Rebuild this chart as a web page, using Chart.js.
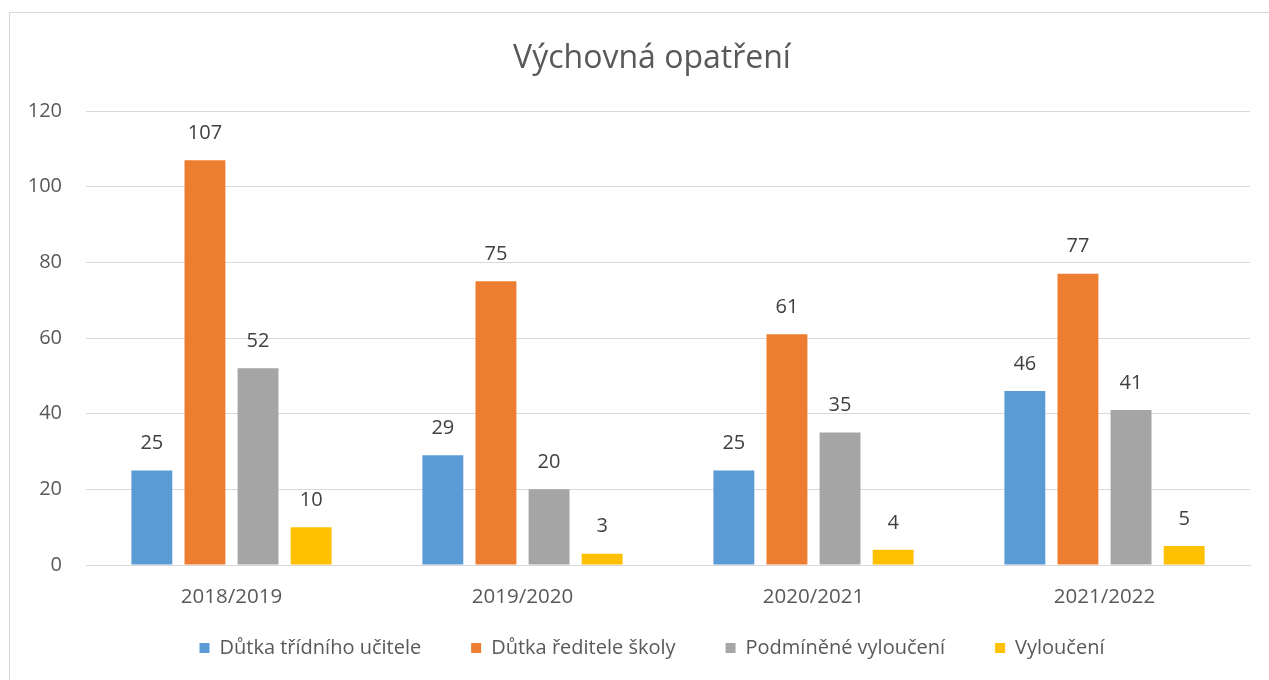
<!DOCTYPE html>
<html>
<head>
<meta charset="utf-8">
<script src="https://cdn.jsdelivr.net/npm/chart.js@4"></script>
<style>
  body { margin: 0; background: #fff; }
  #wrap { width: 1269px; height: 680px; position: relative; }
</style>
</head>
<body>
<div id="wrap"><canvas id="myChart"></canvas></div>
<script>
// Data
const years = ['2018/2019', '2019/2020', '2020/2021', '2021/2022'];
const tridniUcitel = [25, 29, 25, 46];
const reditelSkoly = [107, 75, 61, 77];
const podmineneVylouceni = [52, 20, 35, 41];
const vylouceni = [10, 3, 4, 5];
const yTicks = [0, 20, 40, 60, 80, 100, 120];

const FONT = '"Open Sans", "Noto Sans", sans-serif';
const TEXT = '#595959';

// light grey frame around the whole chart, like the Excel chart border
const frame = {
    id: 'frame',
    beforeDraw(chart) {
        const ctx = chart.ctx;
        ctx.save();
        ctx.strokeStyle = '#D9D9D9';
        ctx.lineWidth = 1;
        ctx.strokeRect(9.5, 12.5, 1400, 800);
        ctx.restore();
    }
};

// value above each bar
const valueLabels = {
    id: 'valueLabels',
    afterDatasetsDraw(chart) {
        const ctx = chart.ctx;
        ctx.save();
        ctx.font = '20px ' + FONT;
        ctx.fillStyle = '#404040';
        ctx.textAlign = 'center';
        ctx.textBaseline = 'middle';
        chart.data.datasets.forEach((ds, i) => {
            const meta = chart.getDatasetMeta(i);
            meta.data.forEach((bar, j) => {
                ctx.fillText(ds.data[j], bar.x, bar.y - 27);
            });
        });
        ctx.restore();
    }
};

const ctx = document.getElementById('myChart').getContext('2d');
const chart = new Chart(ctx, {
    type: 'bar',
    data: {
        labels: years,
        datasets: [
            { label: 'Důtka třídního učitele', data: tridniUcitel, backgroundColor: '#5B9BD5' },
            { label: 'Důtka ředitele školy', data: reditelSkoly, backgroundColor: '#ED7D31' },
            { label: 'Podmíněné vyloučení', data: podmineneVylouceni, backgroundColor: '#A5A5A5' },
            { label: 'Vyloučení', data: vylouceni, backgroundColor: '#FFC000' }
        ]
    },
    options: {
        responsive: true,
        maintainAspectRatio: false,
        animation: false,
        categoryPercentage: 0.73,
        barPercentage: 0.77,
        layout: { padding: { left: 54, right: 19, top: 0, bottom: 12 } },
        plugins: {
            title: {
                display: true,
                text: 'Výchovná opatření',
                color: TEXT,
                font: { family: FONT, size: 32, weight: 'normal' },
                padding: { top: 40, bottom: 32.6 }
            },
            legend: {
                position: 'bottom',
                labels: {
                    color: TEXT,
                    font: { family: FONT, size: 20 },
                    boxWidth: 10,
                    boxHeight: 10,
                    padding: 50
                }
            },
            tooltip: { enabled: false }
        },
        scales: {
            x: {
                grid: { display: false },
                border: { display: true, color: '#D9D9D9' },
                ticks: { color: TEXT, font: { family: FONT, size: 20.5 }, padding: 12 },
                afterFit(scale) {
                    scale.height = 23;
                    scale._computeLabelArea = () => undefined; // let the labels spill below the box
                }
            },
            y: {
                min: 0,
                max: 120,
                afterBuildTicks(scale) { scale.ticks = yTicks.map(v => ({ value: v })); },
                grid: { color: '#D9D9D9', drawTicks: false },
                border: { display: false },
                ticks: { color: TEXT, font: { family: FONT, size: 20 }, padding: 24 },
                afterFit(scale) {
                    scale.width = 32;
                    scale._computeLabelArea = () => undefined;
                }
            }
        }
    },
    plugins: [frame, valueLabels]
});
</script>
</body>
</html>
